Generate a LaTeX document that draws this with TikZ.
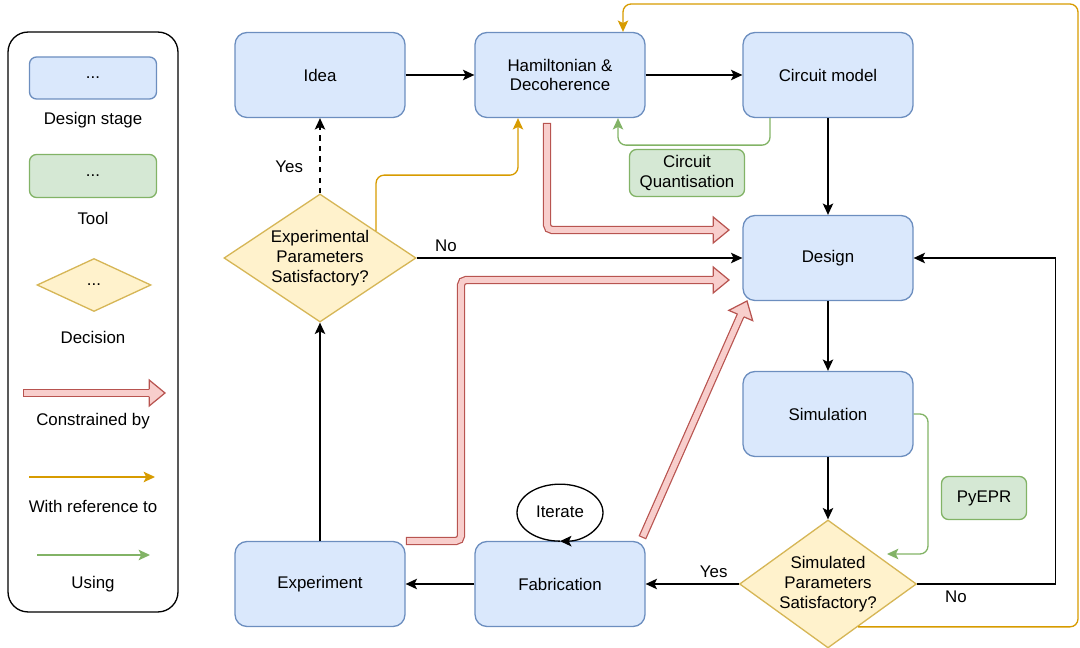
\documentclass[tikz,border=0pt]{standalone}
\usepackage{fontspec}
\setmainfont{Liberation Sans}
\usepackage{xcolor}
\usepackage{tikz}
\usetikzlibrary{arrows.meta,positioning,shapes.geometric,calc}
\definecolor{stageblue}{HTML}{DAE8FC}
\definecolor{stageblueDark}{HTML}{6C8EBF}
\definecolor{toolgreen}{HTML}{D5E8D4}
\definecolor{toolgreenDark}{HTML}{82B366}
\definecolor{decyellow}{HTML}{FFF2CC}
\definecolor{decyellowDark}{HTML}{D6B656}
\definecolor{conred}{HTML}{F8CECC}
\definecolor{conredDark}{HTML}{B85450}
\definecolor{reforange}{HTML}{D79B00}

\begin{document}
\begin{tikzpicture}[x=0.02cm, y=-0.02cm, line width=0.75pt,
  every node/.style={font=\fontsize{9.6}{11.3}\selectfont, align=center},
  >={Stealth[length=6.5pt, width=6pt, inset=1.5pt]},
  stage/.style={draw=stageblueDark, fill=stageblue, rounded corners=0.24cm, minimum width=3.4cm, minimum height=1.7cm},
  tool/.style={draw=toolgreenDark, fill=toolgreen, rounded corners=0.14cm, minimum height=0.86cm},
  decision/.style={diamond, draw=decyellowDark, fill=decyellow, inner sep=-4pt, aspect=1.5},
  refline/.style={->, draw=reforange, rounded corners=0.16cm},
  useline/.style={->, draw=toolgreenDark, rounded corners=0.16cm},
  fatshaft/.style={draw=conredDark, double=conred, double distance=3.3pt, line width=0.7pt, line cap=rect, rounded corners=0.1cm},
  fathead/.pic={
    \fill[conred] (0,0) -- (-9pt,7.4pt) -- (-9pt,-7.4pt) -- cycle;
    \draw[conredDark, line width=0.7pt, line join=miter] (-9pt,2pt) -- (-9pt,7.4pt) -- (0,0) -- (-9pt,-7.4pt) -- (-9pt,-2pt);
  }]
  \useasboundingbox (0,0) rectangle (1080,648);

  % legend
  \node[draw, rounded corners=0.4cm, minimum width=3.4cm, minimum height=11.6cm] (legend) at (93,322) {};
  \node[stage, minimum width=2.54cm, minimum height=0.84cm, rounded corners=0.14cm] (lgstage) at (93,78) {...};
  \node (lgstagetxt) at (93,120) {Design stage};
  \node[tool, minimum width=2.54cm] (lgtool) at (93,176) {...};
  \node (lgtooltxt) at (93,218) {Tool};
  \node[decision, minimum width=2.28cm, minimum height=1.06cm, aspect=2] (lgdec) at (94,285) {...};
  \node (lgdectxt) at (93,337) {Decision};
  \coordinate (lgconA) at (27,393);
  \coordinate (lgconB) at (165,393);
  \draw[fatshaft] (lgconA) -- ($(lgconB)+(-16,0)$);
  \pic at (lgconB) {fathead};
  \node (lgcontxt) at (93,421) {Constrained by};
  \coordinate (lgrefA) at (29,477);
  \coordinate (lgrefB) at (155,477);
  \draw[refline] (lgrefA) -- (lgrefB);
  \node (lgreftxt) at (93,506) {With reference to};
  \coordinate (lguseA) at (37,555);
  \coordinate (lguseB) at (150,555);
  \draw[useline] (lguseA) -- (lguseB);
  \node (lgusetxt) at (93,584) {Using};

  % design stages
  \node[stage] (idea) at (320,75) {Idea};
  \node[stage] (ham) at (560,75) {Hamiltonian \&\\Decoherence};
  \node[stage] (circ) at (828,75) {Circuit model};
  \node[stage] (design) at (828,258) {Design};
  \node[stage] (sim) at (828,414) {Simulation};
  \node[stage] (exp) at (320,584) {Experiment};
  \node[stage] (fab) at (560,584) {Fabrication};
  \node[decision, minimum width=3.84cm, minimum height=2.56cm] (expok) at (320,258) {Experimental\\Parameters\\Satisfactory?};
  \node[decision, minimum width=3.54cm, minimum height=2.56cm] (simok) at (828,584) {Simulated\\Parameters\\Satisfactory?};

  % tools
  \node[tool, minimum width=2.3cm] (cq) at (687,173) {Circuit\\Quantisation};
  \node[tool, minimum width=1.7cm] (pyepr) at (984,498) {PyEPR};
  \node[ellipse, minimum width=1.72cm, minimum height=1.14cm] (iter) at (560,512) {Iterate};
  \draw[->] (iter.south) arc[start angle=-90, delta angle=-360, x radius=0.86cm, y radius=0.57cm];

  % flow
  \draw[->] (idea) -- (ham);
  \draw[->] (ham) -- (circ);
  \draw[->] (circ) -- (design);
  \draw[->] (design) -- (sim);
  \draw[->] (sim) -- (simok);
  \draw[->] (simok.west) -- node[pos=0.27, above] {Yes} (fab.east);
  \draw[->] (fab) -- (exp);
  \draw[->] (exp) -- (expok);
  \draw[->, dashed] (expok) -- node[pos=0.35, left=6pt] {Yes} (idea);
  \draw[->] (expok.east) -- node[pos=0.09, above] {No} (design.west);
  \draw[->] (simok.east) -- node[pos=0.28, below] {No} ($(design.east |- simok.east)+(142,0)$) |- (design.east);

  % with reference to
  \coordinate (expokref) at ($(expok.north)!0.58!(expok.east)$);
  \draw[refline] (expokref) |- ($(ham.south)+(-42,57)$) -- ($(ham.south)+(-42,0)$);
  \coordinate (simokref) at ($(simok.south)!0.337!(simok.east)$);
  \coordinate (loopcorner) at (1078,4);
  \draw[refline] (simokref) -| (loopcorner) -| ($(ham.north)+(63,0)$);

  % using
  \draw[useline] ($(circ.south)+(-58,0)$) -- ++(0,27) -| ($(ham.south)+(58,0)$);
  \coordinate (pyrail) at (928,554);
  \coordinate (simokuse) at (887,554);
  \draw[useline] (sim.east) -| (pyrail) -- (simokuse);

  % constrained by
  \coordinate (hamcon) at (547,127);
  \coordinate (desA) at (729,230);
  \draw[fatshaft] (hamcon) |- ($(desA)+(-16,0)$);
  \pic at (desA) {fathead};
  \coordinate (expcon) at (410,541);
  \coordinate (desB) at (729,280);
  \draw[fatshaft] (expcon) -- ++(51,0) |- ($(desB)+(-16,0)$);
  \pic at (desB) {fathead};
  \coordinate (fabcon) at (644,534);
  \coordinate (desC) at (747,301);
  \draw[fatshaft] (fabcon) -- ($(desC)!9pt!(fabcon)$);
  \pic[rotate=66.7] at (desC) {fathead};
\end{tikzpicture}
\end{document}
